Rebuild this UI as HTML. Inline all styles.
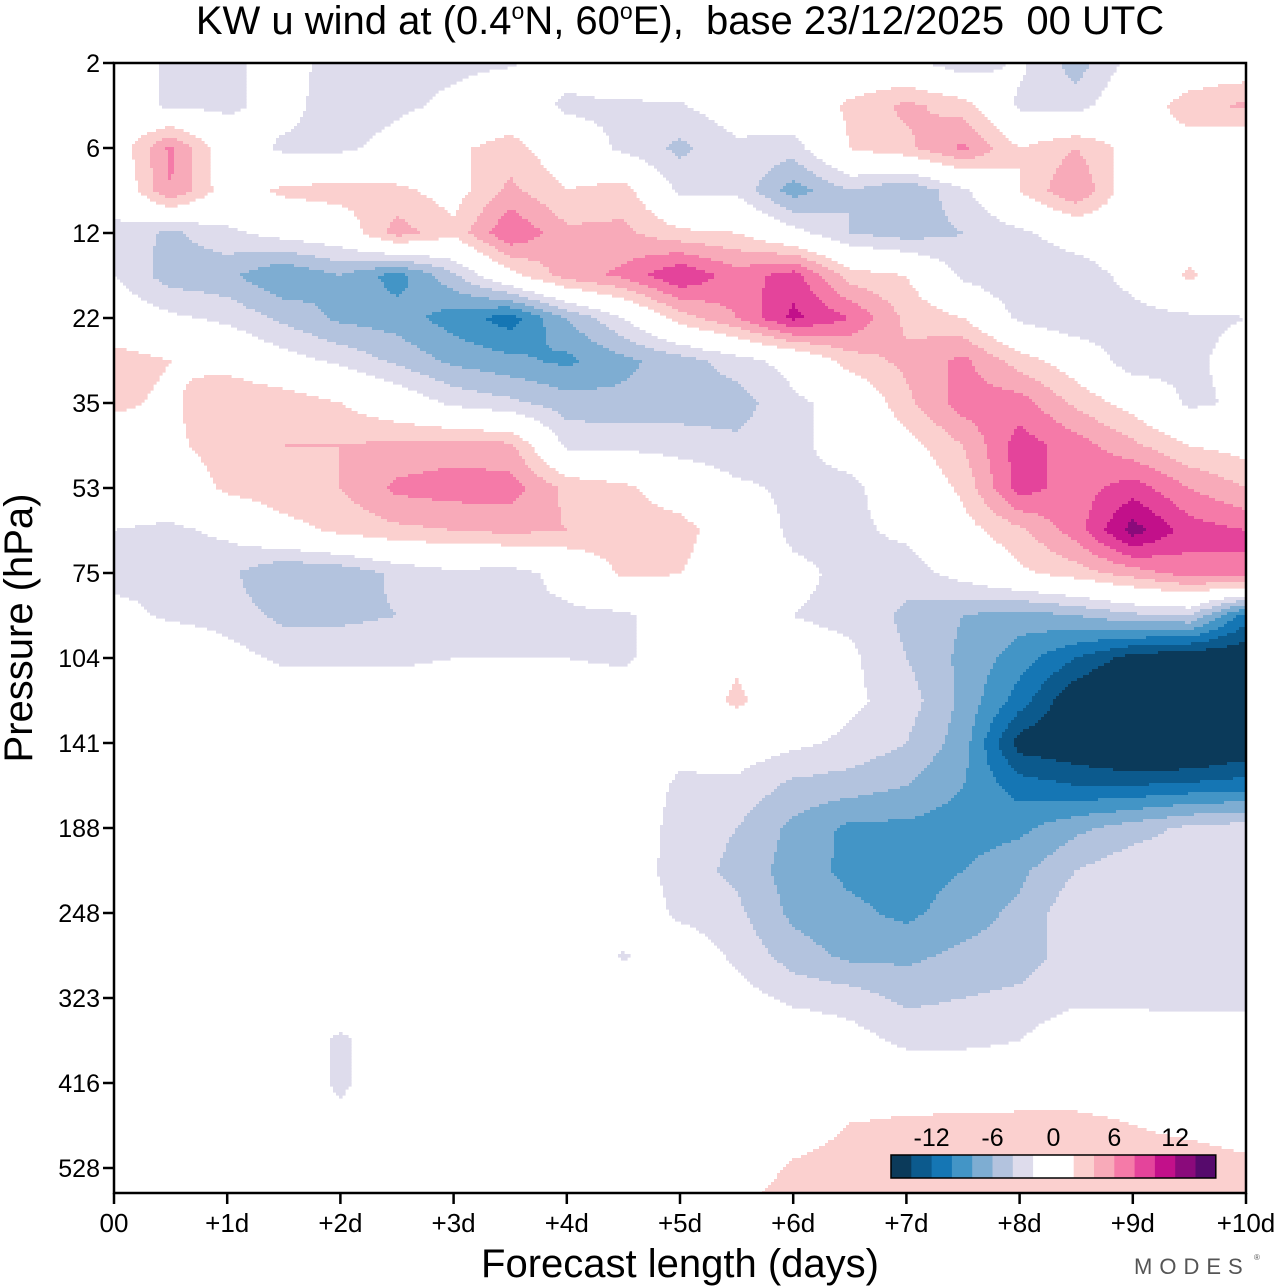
<!DOCTYPE html>
<html><head><meta charset="utf-8"><style>
html,body{margin:0;padding:0;background:#fff;}
svg{display:block;font-family:"Liberation Sans",Arial,sans-serif;}
</style></head><body>
<svg id="chart" width="1280" height="1286" viewBox="0 0 1280 1286" xmlns="http://www.w3.org/2000/svg">
<text x="680" y="34" font-size="40" text-anchor="middle">KW u wind at (0.4<tspan font-size="23" dy="-15">o</tspan><tspan dy="15">N, 60</tspan><tspan font-size="23" dy="-15">o</tspan><tspan dy="15">E),&#160; base 23/12/2025&#160; 00 UTC</tspan></text>
<g id="field"></g>
<g id="axes"></g>
<text transform="translate(32,628) rotate(-90)" font-size="40" text-anchor="middle">Pressure (hPa)</text>
<text x="680" y="1277" font-size="40" text-anchor="middle">Forecast length (days)</text>
<text x="1134" y="1274" font-size="22" fill="#555" letter-spacing="7">MODES</text>
<text x="1254" y="1260" font-size="8" fill="#555">®</text>
<g id="legend"></g>
</svg>
<script>
const dayLabels = ["00","+1d","+2d","+3d","+4d","+5d","+6d","+7d","+8d","+9d","+10d"];
const levelLabels = ["2","6","12","22","35","53","75","104","141","188","248","323","416","528"];
const colorBounds = [-14,-12,-10,-8,-6,-4,-2,2,4,6,8,10,12,14];
const palette = ["#0b3a5a","#0c5a8d","#1576b4","#4395c6","#7eadd2","#b3c3de","#dedcec","#ffffff","#fbd0cf","#f8aab9","#f57aa8","#e4449b","#c2108a","#8a0a7b","#560a6c"];
const legendLabels = ["-12","-6","0","6","12"];
const legendValues = [-12,-6,0,6,12];
// u wind (m/s): rows = half-level steps from 2 hPa downward, columns = every 12h (0..10 days)
const uWind = [
[2,-3,-2.5,-1,-3,-2.5,-2.5,-2.2,-1,1.5,0,0,0,-1,-1,-3.5,-1.5,-5,-1,0,0],
[0,-2.5,-2.5,-1,-3.5,-2.5,-1.5,0,-2.5,-2.5,-2.2,-0.5,0,2.5,4.5,3,-2.5,-3,0.5,3,4.5],
[0,6.5,0,-2.5,-2.5,-1,1.5,3,0,-2.5,-4.5,-2.5,-3,2,3.5,6.5,2,4,1,1,-1],
[-1,6,0.5,2.5,3,2.5,1,4.5,2,3,-2.5,-2.5,-7,-4,-6,-2.5,2,6,0,-1,0],
[-2.5,-4.5,-2.5,-1,0,5,2.5,8,4.5,4.5,2.5,2,-1,-4,-5,-4,-2.5,-0.5,0,0,-1],
[-2,-5,-5.5,-8,-6,-9,-4.5,1,5,6.5,10,7,9,3,2,-2.5,-4,-3.5,-1,2.5,-1],
[0,-1.5,-2.5,-4.5,-6.5,-7,-9,-11,-6,-2,3,6,10.5,8,3.5,2,-2.5,-4,-3,-2.5,-2],
[3,2,1,-1,-2.5,-4.5,-6.5,-7.5,-8.5,-6.5,-5,-3,-1,3,4.5,6.5,3,0.5,-3.5,-2.5,-1],
[2.5,1.5,4,3.5,2,0,-2.5,-3.5,-5,-5.5,-5,-5,-2.5,-1,3.5,7,7,3.5,1,-2.5,-1.5],
[0,1.5,3,4,4,4.5,5,4.5,-2.5,-2.5,-3,-3.5,-2.5,-1,1,4,9,7,4.5,2,1],
[-0.5,0,2.5,3.5,4,6.5,7,7,3.5,2.5,0.5,-1.5,-2.5,-2.5,-0.5,2.5,9,7,9,6,4],
[-2,-2.5,-1.5,1,2.5,3.5,4,4.5,4,3,3,0,-2.5,-2.5,-1.5,1,3.5,7,13,9,8],
[-3,-2.5,-3.5,-6,-5.5,-3.5,-2.5,-3,-1,2.5,2,0,-1.5,-2.5,-3,-1,1.5,3,5,7,8],
[-1,-2.5,-3,-4.5,-4.5,-4,-2.5,-2.5,-2.5,-2.5,0,-0.5,-2,-2.5,-4.5,-6,-7,-6,-4.5,-4,-11],
[0,1.5,-1,-2.5,-2.5,-2.5,-2,-2,-2,-2.5,0,1.5,-1,-1.5,-4,-6.5,-9,-12,-15,-16,-16],
[0,0,0,0,0,0,0,0,0,0,0,2.5,0,-1.5,-3,-6.5,-11,-16,-18,-18,-18],
[0,0,0,0,0,0,0,0,0,0,-1,-0.5,-1.5,-2.5,-4,-7,-15,-16,-18,-18,-16],
[0,0,0,0,0,0,0,0,0,0,-2.5,-2.5,-4.5,-5,-6,-8,-11,-12,-12,-11.5,-11],
[0,0,0,0,0,0,0,0,0,0,-3,-4,-6.5,-8.5,-8.5,-9,-8.5,-6.5,-5,-3.5,-3],
[0,0,0,0,0,0,0,0,0,-0.5,-3,-4.5,-7,-8.5,-9,-8,-6.5,-4,-2.5,-2.5,-2.5],
[0,0,0,0,0,0,-1,0,0,0,-2.5,-3.5,-6.5,-7.5,-8.5,-7,-5.5,-2.5,-2.5,-2.5,-2.5],
[0,0,0,0,0,0,0,0,0,-2.2,0,-2.5,-5,-6.5,-6.5,-5.5,-5,-3,-2.5,-2.5,-2.5],
[-2,0,0,0,0,0,0,0,0,-0.5,0,-1,-2.5,-3,-4.5,-4,-3.5,-2.5,-2.5,-2.5,-2.5],
[0,0,0,0,-2.5,0,0,0,0,0,0,0,0,-1,-2.5,-2.5,-2,0,-0.5,-1,-1],
[0,0,0,0,-2.5,0,0,0,0,0,0,0,0,0,0,0,0,0,0,0,0],
[0,0,0,0,-1,0,0,0,0,0,0,0,0,2.1,2.6,2.8,3,3,2,1.5,1],
[0,0,0,0,0,0,0,0,0,0,0,0,2.5,3.5,3,3,3,3,3,3,2.5],
[0,0,0,0,0,0,0,0,0,0,0,2.5,3,3,3,3,3,3,3,3,3]
];

const NS = "http://www.w3.org/2000/svg";
const X0 = 114, X1 = 1246, Y0 = 63, Y1 = 1193;
const LEVEL_STEP = 85;
function xDay(d){ return X0 + (X1 - X0) * d / 10; }
function yLevel(i){ return Y0 + LEVEL_STEP * i; }
function colorFor(v){
  let i = 0;
  while (i < colorBounds.length && v >= colorBounds[i]) i++;
  return palette[i];
}
function sample(px, py){
  const nc = uWind[0].length, nr = uWind.length;
  const cx = (px - X0) / (X1 - X0) * (nc - 1);
  const cy = (py - Y0) / (LEVEL_STEP / 2);
  let c0 = Math.min(Math.max(Math.floor(cx),0), nc - 2), r0 = Math.min(Math.max(Math.floor(cy),0), nr - 2);
  const fx = Math.min(Math.max(cx - c0,0),1), fy = Math.min(Math.max(cy - r0,0),1);
  const a = uWind[r0][c0], b = uWind[r0][c0+1], c = uWind[r0+1][c0], d = uWind[r0+1][c0+1];
  return a*(1-fx)*(1-fy) + b*fx*(1-fy) + c*(1-fx)*fy + d*fx*fy;
}
const field = document.getElementById('field');
const CELL = 3;
function addRun(x0, x1, y, h, color){
  if (!color || color === "#ffffff" || x1 <= x0) return;
  const r = document.createElementNS(NS, 'rect');
  
  
  r.setAttribute('x', x0); r.setAttribute('y', y);
  r.setAttribute('width', x1 - x0 + 0.6); r.setAttribute('height', h + 0.6);
  r.setAttribute('fill', color);
  field.appendChild(r);
}
for (let y = Y0; y < Y1; y += CELL) {
  const h = Math.min(CELL, Y1 - y);
  let runStart = X0, runColor = null;
  for (let x = X0; x < X1; x += CELL) {
    const w = Math.min(CELL, X1 - x);
    const col = colorFor(sample(x + w/2, y + h/2));
    if (col !== runColor) {
      addRun(runStart, x, y, h, runColor);
      runStart = x; runColor = col;
    }
  }
  addRun(runStart, X1, y, h, runColor);
}
const axes = document.getElementById('axes');
function mk(tag, attrs, parent){ const e = document.createElementNS(NS, tag); for (const k in attrs) e.setAttribute(k, attrs[k]); parent.appendChild(e); return e; }
const frame = mk('rect', {x:X0, y:Y0, width:X1-X0, height:Y1-Y0, fill:'none', stroke:'#000', 'stroke-width':2.5}, axes);


levelLabels.forEach((lab, i) => {
  const y = yLevel(i);
  const t = mk('line', {x1:X0-11, x2:X0, y1:y, y2:y, stroke:'#000', 'stroke-width':2.5}, axes);
  
  
  const tx = mk('text', {x:X0-14, y:y+9, 'font-size':25, 'text-anchor':'end'}, axes);
  
  
  tx.textContent = lab;
});
dayLabels.forEach((lab, i) => {
  const x = xDay(i);
  const t = mk('line', {x1:x, x2:x, y1:Y1, y2:Y1+11, stroke:'#000', 'stroke-width':2.5}, axes);
  
  
  const tx = mk('text', {x:x, y:Y1+39, 'font-size':26, 'text-anchor':'middle'}, axes);
  
  
  tx.textContent = lab;
});
const legend = document.getElementById('legend');
const LX = 891, LW = 20.3, LY = 1155, LH = 23;
function legendX(v){ return LX + LW * 8 + v / 2 * LW; }
palette.forEach((c, i) => {
  const w = (i === 7) ? LW * 2 : LW;
  const x = i <= 7 ? LX + LW * i : LX + LW * (i + 1);
  const r = mk('rect', {x:x, y:LY, width:w + 0.4, height:LH, fill:c}, legend);
  
  
});
const lb = mk('rect', {x:LX, y:LY, width:LW*16, height:LH, fill:'none', stroke:'#000', 'stroke-width':1.5}, legend);


legendLabels.forEach((lab, i) => {
  const t = mk('text', {x:legendX(legendValues[i]), y:LY-9, 'font-size':25, 'text-anchor':'middle'}, legend);
  
  
  t.textContent = lab;
});
</script>
</body></html>
